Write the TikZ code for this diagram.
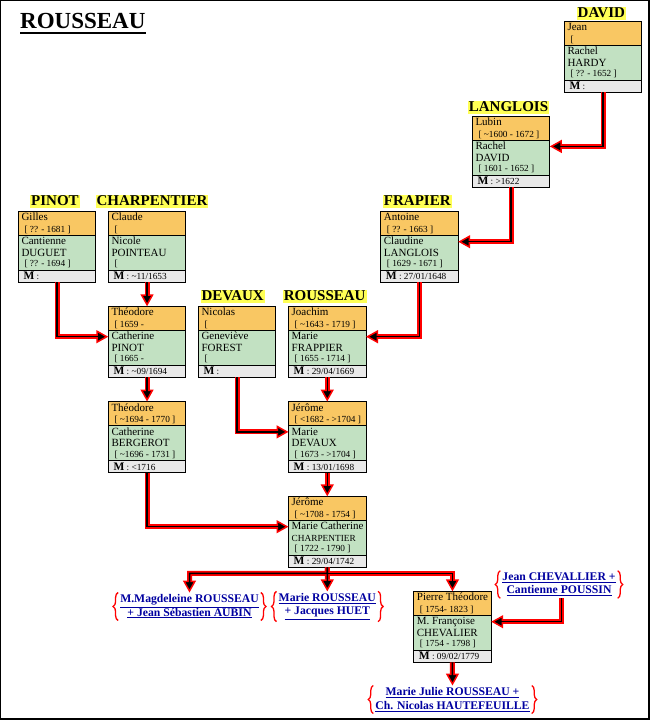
\documentclass[tikz,border=0pt]{standalone}
\usepackage{fontspec}
\setmainfont{Liberation Serif}
\usetikzlibrary{arrows.meta,decorations.pathreplacing}
\definecolor{orng}{RGB}{249,199,99}
\definecolor{grn}{RGB}{194,225,194}
\definecolor{mgray}{RGB}{233,233,233}
\definecolor{ylw}{RGB}{255,255,85}
\definecolor{lnk}{RGB}{0,0,160}
\newcommand\nmf{\fontsize{11}{12}\selectfont}
\newcommand\dtf{\fontsize{9.3}{10}\selectfont}
\newcommand\smf{\fontsize{9.3}{10}\selectfont}
\newcommand\tl{\textasciitilde}
\tikzset{
 cardpart/.style={draw=black, line width=1pt, minimum width=77.5pt, inner sep=0pt, outer sep=0pt, anchor=north west},
 hbox/.style={cardpart, fill=orng, minimum height=24.4pt},
 wbox/.style={cardpart, fill=grn, minimum height=35pt},
 mbox/.style={cardpart, fill=mgray, minimum height=11.6pt},
 txt/.style={inner sep=0pt, anchor=base west, font=\nmf},
 fam/.style={fill=ylw, inner xsep=1pt, inner ysep=0pt, text height=11pt, text depth=2pt, font=\fontsize{15}{16}\selectfont\bfseries},
 redline/.style={draw=red, line width=5pt, -{Triangle[length=12pt,width=13pt,line width=1.5pt,color=red,fill=black]}},
 blackline/.style={draw=black, line width=1.5pt, shorten >=6pt},
 kid/.style={align=center, text=lnk, font=\fontsize{11.7}{13.3}\selectfont\bfseries, inner xsep=2pt, inner ysep=2pt},
 bracest/.style={draw=red, line width=1.3pt, decorate, decoration={brace, amplitude=5pt}},
}
\newcommand\famcard[9]{%
 \node[hbox] (#1h) at (#2,#3) {};
 \node[wbox] (#1w) at (#1h.south west) {};
 \node[mbox] (#1m) at (#1w.south west) {};
 \node[txt] (#1a) at (#2+3,#3+9.5) {#4};
 \node[txt,font=\dtf] (#1b) at (#2+6,#3+21) {#5};
 \node[txt] (#1c) at (#2+3,#3+33.5) {#6};
 \node[txt] (#1d) at (#2+3,#3+45) {#7};
 \node[txt,font=\dtf] (#1e) at (#2+6,#3+55.5) {#8};
 \node[txt,font=\dtf] (#1f) at (#2+5,#3+68.5) {{\fontsize{11.5}{12}\selectfont\bfseries M} : #9};
 \coordinate (#1L) at (#2,#3+30.4);
 \coordinate (#1R) at (#2+77.5,#3+30.4);
}
\newcommand\allconns[1]{%
 \draw[#1] (davm.south) |- (lanR);
 \draw[#1] (lanm.south) |- (fraR);
 \draw[#1] (fram.south) |- (joaR);
 \draw[#1] (pinm.south) |- (theL);
 \draw[#1] (cham.south) -- (theh.north);
 \draw[#1] (them.south) -- (tbbh.north);
 \draw[#1] (devm.south) |- (jerL);
 \draw[#1] (joam.south) -- (jerh.north);
 \draw[#1] (jerm.south) -- (jbbh.north);
 \draw[#1] (tbbm.south) |- (jbbL);
 \draw[#1] (jbbm.south) -- (split) -| (kida.north);
 \draw[#1] (jbbm.south) -- (kidb.north);
 \draw[#1] (split) -| (pieh.north);
 \draw[#1] ([xshift=2.5pt]chev.south) |- (pieR);
 \draw[#1] (piem.south) -- (haut.north);
}
\begin{document}
\begin{tikzpicture}[x=1pt,y=-1pt]
\useasboundingbox (0,0) rectangle (650,720);
\draw[line width=1.4pt] (0.7,0.6) rectangle (649,719);
% title
\node[inner sep=0pt, anchor=base west, font=\fontsize{23}{24}\selectfont\bfseries] (title) at (20,28) {ROUSSEAU};
\draw[line width=2pt] ([yshift=-5.3pt]title.base west) -- ([yshift=-5.3pt]title.base east);
% family labels
\node[fam] (lDAVID) at (601.3,13.3) {DAVID};
\node[fam] (lLANGLOIS) at (508.5,107) {LANGLOIS};
\node[fam] (lPINOT) at (55,201.2) {PINOT};
\node[fam] (lCHARP) at (152,201.2) {CHARPENTIER};
\node[fam] (lFRAPIER) at (417.3,201.2) {FRAPIER};
\node[fam] (lDEVAUX) at (232.7,296.3) {DEVAUX};
\node[fam] (lROUSSEAU) at (324.7,296.3) {ROUSSEAU};
% cards
\famcard{dav}{564.3}{21.3}{Jean}{[}{Rachel}{HARDY}{[ ?? - 1652 ]}{}
\famcard{lan}{472.3}{116}{Lubin}{[ \tl1600 - 1672 ]}{Rachel}{DAVID}{[ 1601 - 1652 ]}{>1622}
\famcard{pin}{18.3}{211.3}{Gilles}{[ ?? - 1681 ]}{Cantienne}{DUGUET}{[ ?? - 1694 ]}{}
\famcard{cha}{108.3}{211.3}{Claude}{[}{Nicole}{POINTEAU}{[}{\tl11/1653}
\famcard{fra}{380.7}{211.3}{Antoine}{[ ?? - 1663 ]}{Claudine}{LANGLOIS}{[ 1629 - 1671 ]}{27/01/1648}
\famcard{dev}{198.3}{306.3}{Nicolas}{[}{Geneviève}{FOREST}{[}{}
\famcard{joa}{288.5}{306.3}{Joachim}{[ \tl1643 - 1719 ]}{Marie}{FRAPPIER}{[ 1655 - 1714 ]}{29/04/1669}
\famcard{the}{108.3}{306.3}{Théodore}{[ 1659 -}{Catherine}{PINOT}{[ 1665 -}{\tl09/1694}
\famcard{tbb}{108.3}{401.5}{Théodore}{[ \tl1694 - 1770 ]}{Catherine}{BERGEROT}{[ \tl1696 - 1731 ]}{<1716}
\famcard{jer}{288.5}{401.5}{Jérôme}{[ <1682 - >1704 ]}{Marie}{DEVAUX}{[ 1673 - >1704 ]}{13/01/1698}
\famcard{jbb}{288.5}{496.3}{Jérôme}{[ \tl1708 - 1754 ]}{Marie Catherine}{{\smf CHARPENTIER}}{[ 1722 - 1790 ]}{29/04/1742}
\famcard{pie}{413.7}{591.3}{Pierre Théodore}{[ 1754- 1823 ]}{M. Françoise}{CHEVALIER}{[ 1754 - 1798 ]}{09/02/1779}
% children and linked families
\node[kid] (kida) at (189.5,606.5) {\underline{M.Magdeleine ROUSSEAU}\\\underline{+ Jean Sébastien AUBIN}};
\node[kid] (kidb) at (327.3,606.5) {\underline{Marie ROUSSEAU}\\\underline{+ Jacques HUET}};
\node[kid] (chev) at (559,584.5) {\underline{Jean CHEVALLIER +}\\\underline{Cantienne POUSSIN}};
\node[kid] (haut) at (452.5,699.5) {\underline{Marie Julie ROUSSEAU +}\\\underline{Ch. Nicolas HAUTEFEUILLE}};
\foreach \k in {kida,kidb,chev,haut}{
 \draw[bracest] (\k.south west) -- (\k.north west);
 \draw[bracest] (\k.north east) -- (\k.south east);
}
\coordinate (split) at (327.3,573.3);
% connectors
\allconns{redline}
\allconns{blackline}
\end{tikzpicture}
\end{document}
